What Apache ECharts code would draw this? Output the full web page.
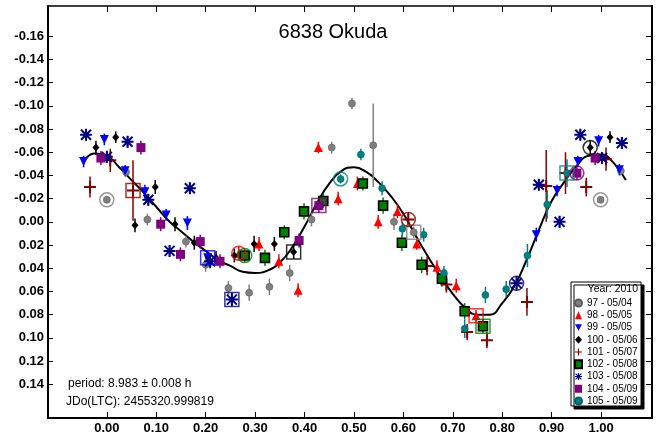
<!DOCTYPE html>
<html><head><meta charset="utf-8">
<script src="https://cdn.jsdelivr.net/npm/echarts@6/dist/echarts.min.js"></script>
<style>html,body{margin:0;padding:0;background:#fff}#c{width:658px;height:441px}</style>
</head><body><div id="c"></div>
<script>
const xTicks = [0, 0.1, 0.2, 0.3, 0.4, 0.5, 0.6, 0.7, 0.8, 0.9, 1.0];
const yTicks = [-0.16, -0.14, -0.12, -0.10, -0.08, -0.06, -0.04, -0.02, 0, 0.02, 0.04, 0.06, 0.08, 0.10, 0.12, 0.14];
const legendNames = ['97 - 05/04','98 - 05/05','99 - 05/05','100 - 05/06','101 - 05/07','102 - 05/08','103 - 05/08','104 - 05/09','105 - 05/09'];
// rows: [phase, mag, err, mark] mark: 0 none, 1 circled, 2 boxed
const s97 = [[0.000,-0.019,0.003,1],[0.039,-0.043,0.004,0],[0.082,-0.002,0.005,0],[0.160,0.017,0.005,0],[0.200,0.037,0.006,0],[0.246,0.057,0.006,0],[0.288,0.061,0.007,0],[0.329,0.056,0.007,0],[0.370,0.044,0.007,0],[0.414,-0.002,0.006,0],[0.455,-0.064,0.005,0],[0.496,-0.102,0.005,0],[0.539,-0.066,0.036,0],[0.581,0.000,0.007,0],[0.621,0.009,0.005,2],[0.999,-0.019,0.003,1],[1.040,-0.044,0.004,0]];
const s98 = [[0.267,0.027,0.006,1],[0.308,0.019,0.006,0],[0.348,0.034,0.006,0],[0.387,0.059,0.006,0],[0.428,-0.064,0.005,0],[0.468,-0.020,0.006,0],[0.507,-0.033,0.006,0],[0.549,0.000,0.006,0],[0.588,-0.009,0.006,0],[0.627,0.019,0.005,0],[0.668,0.039,0.006,0],[0.707,0.055,0.006,0],[0.747,0.081,0.005,2]];
const s99 = [[-0.047,-0.052,0.005,0],[-0.005,-0.071,0.005,0],[0.037,-0.044,0.005,0],[0.077,-0.026,0.006,0],[0.120,-0.006,0.005,0],[0.163,0.001,0.006,0],[0.204,0.031,0.006,2],[0.869,0.011,0.006,0],[0.911,-0.027,0.005,0],[0.953,-0.052,0.005,0],[0.995,-0.070,0.005,0],[1.037,-0.045,0.005,0]];
const s100 = [[-0.022,-0.064,0.006,0],[0.018,-0.073,0.005,0],[0.057,0.003,0.006,0],[0.098,-0.030,0.006,0],[0.138,0.002,0.006,0],[0.177,0.018,0.006,0],[0.221,0.031,0.006,0],[0.258,0.029,0.006,0],[0.298,0.019,0.007,0],[0.339,0.019,0.006,0],[0.378,0.026,0.006,2],[0.978,-0.064,0.006,1],[1.018,-0.073,0.005,0]];
const s101 = [[-0.034,-0.030,0.009,0],[0.007,-0.053,0.010,0],[0.053,-0.027,0.026,2],[0.610,-0.002,0.006,1],[0.648,0.038,0.008,0],[0.687,0.054,0.007,0],[0.729,0.095,0.007,0],[0.769,0.102,0.007,0],[0.850,0.069,0.012,0],[0.889,-0.031,0.031,0],[0.928,-0.042,0.018,0],[0.970,-0.030,0.008,0],[1.010,-0.054,0.010,0]];
const s102 = [[0.279,0.029,0.006,1],[0.320,0.031,0.007,0],[0.359,0.009,0.006,0],[0.399,-0.009,0.007,0],[0.438,-0.018,0.006,0],[0.518,-0.033,0.006,0],[0.559,-0.014,0.007,0],[0.597,0.018,0.007,0],[0.637,0.037,0.007,0],[0.678,0.049,0.007,0],[0.724,0.077,0.007,0],[0.761,0.090,0.006,2]];
const s103 = [[-0.042,-0.075,0.005,0],[0.000,-0.056,0.005,0],[0.042,-0.069,0.005,0],[0.084,-0.019,0.005,0],[0.127,0.025,0.005,0],[0.168,-0.029,0.005,0],[0.209,0.034,0.006,0],[0.253,0.067,0.006,2],[0.829,0.053,0.006,1],[0.874,-0.032,0.005,0],[0.916,0.000,0.005,0],[0.958,-0.075,0.005,0],[1.002,-0.055,0.005,0],[1.042,-0.068,0.005,0]];
const s104 = [[-0.012,-0.055,0.006,0],[0.069,-0.064,0.006,0],[0.109,0.002,0.006,0],[0.149,0.028,0.006,0],[0.189,0.017,0.006,0],[0.229,0.034,0.006,0],[0.389,0.016,0.006,0],[0.429,-0.014,0.006,2],[0.951,-0.042,0.006,1],[0.988,-0.055,0.006,0]];
const s105 = [[0.473,-0.037,0.004,1],[0.514,-0.058,0.005,0],[0.557,-0.029,0.006,0],[0.598,0.006,0.006,0],[0.641,0.011,0.006,0],[0.682,0.044,0.006,0],[0.724,0.092,0.008,0],[0.766,0.063,0.007,0],[0.808,0.058,0.007,0],[0.851,0.029,0.010,0],[0.891,-0.015,0.012,0],[0.931,-0.042,0.012,2]];
const curvePhase = [-0.047,-0.025,0.000,0.025,0.050,0.075,0.100,0.125,0.150,0.175,0.200,0.225,0.250,0.275,0.300,0.325,0.350,0.375,0.400,0.425,0.450,0.475,0.500,0.525,0.550,0.575,0.600,0.625,0.650,0.675,0.700,0.725,0.750,0.775,0.800,0.825,0.850,0.875,0.900,0.925,0.950,0.975,1.000,1.025,1.050];
const curveMag = [-0.052,-0.059,-0.057,-0.047,-0.036,-0.025,-0.013,-0.001,0.008,0.017,0.025,0.033,0.038,0.043,0.044,0.042,0.035,0.022,0.004,-0.016,-0.033,-0.044,-0.047,-0.043,-0.034,-0.022,-0.007,0.012,0.030,0.047,0.062,0.074,0.080,0.080,0.070,0.055,0.032,0.006,-0.018,-0.034,-0.048,-0.057,-0.058,-0.051,-0.036];

const F = '"Liberation Sans", Arial, sans-serif';
const PLUS = 'path://M5,0H7V5H12V7H7V12H5V7H0V5H5Z';
const STAR = 'path://M5,0H7V12H5Z M0,5H12V7H0Z M1.7,0.3L11.7,10.3L10.3,11.7L0.3,1.7Z M10.3,0.3L11.7,1.7L1.7,11.7L0.3,10.3Z';
const DOWN = 'path://M0,0H10L5,9Z';
const defs = [
  {d:s97, c:'#808080', sym:'circle', size:7, bc:'#5a5a5a', bw:0.6, li:'circle'},
  {d:s98, c:'#ff0000', sym:'triangle', size:9, bc:'#ff0000', bw:0, li:'triangle'},
  {d:s99, c:'#0000ff', sym:DOWN, size:9, bc:'#0000ff', bw:0, li:DOWN},
  {d:s100, c:'#000000', sym:'diamond', size:[7,8], bc:'#000', bw:0, li:'diamond'},
  {d:s101, c:'#8b0000', sym:PLUS, size:12, bc:'#8b0000', bw:0, li:PLUS},
  {d:s102, c:'#008000', sym:'rect', size:9, bc:'#000000', bw:1.6, li:'rect'},
  {d:s103, c:'#000080', sym:STAR, size:12, bc:'#000080', bw:0, li:STAR},
  {d:s104, c:'#800080', sym:'rect', size:9, bc:'#800080', bw:0, li:'rect'},
  {d:s105, c:'#008080', sym:'circle', size:7, bc:'#006060', bw:0.5, li:'circle'}
];

const series = [];
series.push({type:'line', name:'fit', data:curvePhase.map((p,i)=>[p,curveMag[i]]), smooth:true, showSymbol:false, symbol:'none', lineStyle:{color:'#000', width:2}, z:2, silent:true, clip:true});
defs.forEach((s, k) => {
  series.push({type:'custom', name:'eb'+k, silent:true, z:3, clip:true,
    data:s.d.map(p=>[p[0],p[1],p[2]]), encode:{x:0,y:1},
    renderItem:(params, api)=>{
      const x=api.value(0), y=api.value(1), e=api.value(2);
      const a=api.coord([x,y-e]), b=api.coord([x,y+e]);
      return {type:'line', shape:{x1:a[0],y1:a[1],x2:b[0],y2:b[1]}, style:{stroke:s.c, lineWidth:1.5}};
    }});
  series.push({type:'scatter', name:legendNames[k], data:s.d.map(p=>[p[0],p[1]]), symbol:s.sym, symbolSize:s.size,
    itemStyle:{color:s.c, borderColor:s.bc, borderWidth:s.bw, opacity:1}, z:4, silent:true});
  const circ = s.d.filter(p=>p[3]===1).map(p=>[p[0],p[1]]);
  const box = s.d.filter(p=>p[3]===2).map(p=>[p[0],p[1]]);
  series.push({type:'scatter', name:'c'+k, data:circ, symbol:'circle', symbolSize:14, z:5, silent:true,
    itemStyle:{color:'rgba(0,0,0,0)', borderColor:s.c, borderWidth:1.5}});
  series.push({type:'scatter', name:'b'+k, data:box, symbol:'rect', symbolSize:14, z:5, silent:true,
    itemStyle:{color:'rgba(0,0,0,0)', borderColor:s.c, borderWidth:1.5}});
});

const axLine = {show:true, onZero:false, lineStyle:{color:'#000', width:2}};
const axLine2 = {show:true, onZero:false, lineStyle:{color:'#000', width:1.5}};
const chart = echarts.init(document.getElementById('c'), null, {renderer:'canvas'});
chart.setOption({
  animation:false,
  backgroundColor:'#fff',
  grid:{left:48, right:6, top:6, bottom:23, containLabel:false},
  xAxis:[
    {type:'value', min:-0.119, max:1.103, position:'bottom', axisLine:axLine, splitLine:{show:false},
     axisTick:{show:true, inside:true, length:6, customValues:xTicks, lineStyle:{color:'#000', width:1}},
     axisLabel:{customValues:xTicks, formatter:v=>v.toFixed(2), fontFamily:F, fontSize:13, fontWeight:'bold', color:'#000', margin:4}},
    {type:'value', min:-0.119, max:1.103, position:'top', axisLine:axLine2, splitLine:{show:false},
     axisTick:{show:true, inside:true, length:6, customValues:xTicks, lineStyle:{color:'#000', width:1}},
     axisLabel:{show:false}}
  ],
  yAxis:[
    {type:'value', min:-0.186, max:0.169, inverse:true, position:'left', axisLine:axLine, splitLine:{show:false},
     axisTick:{show:true, inside:true, length:5, customValues:yTicks, lineStyle:{color:'#000', width:1}},
     axisLabel:{customValues:yTicks, formatter:v=>v.toFixed(2), fontFamily:F, fontSize:13, fontWeight:'bold', color:'#000', margin:4}},
    {type:'value', min:-0.186, max:0.169, inverse:true, position:'right', axisLine:axLine, splitLine:{show:false},
     axisTick:{show:true, inside:true, length:6, customValues:yTicks, lineStyle:{color:'#000', width:1}},
     axisLabel:{show:false}}
  ],
  legend:{orient:'vertical', left:574, top:297, itemWidth:7, itemHeight:8, itemGap:0.25, padding:0, selectedMode:false,
    textStyle:{fontSize:10, lineHeight:12, fontFamily:F, color:'#000'},
    data:legendNames.map((n,k)=>({name:n, icon:defs[k].li})), z:10},
  graphic:[
    {type:'text', style:{text:'6838 Okuda', x:333, y:32, textAlign:'center', textVerticalAlign:'middle', font:'20px '+F, fill:'#000'}},
    {type:'rect', shape:{x:571, y:282, width:70, height:124}, style:{fill:'#fff', stroke:'#000', lineWidth:1, shadowColor:'#000', shadowOffsetX:3, shadowOffsetY:3, shadowBlur:0}, z:8},
    {type:'text', style:{text:'Year: 2010', x:638, y:289, textAlign:'right', textVerticalAlign:'middle', font:'10.5px '+F, fill:'#000'}, z:9},
    {type:'text', style:{text:'period: 8.983 \u00b1 0.008 h', x:68, y:384, textAlign:'left', textVerticalAlign:'middle', font:'12px '+F, fill:'#000'}, z:9},
    {type:'text', style:{text:'JDo(LTC): 2455320.999819', x:66, y:402, textAlign:'left', textVerticalAlign:'middle', font:'12px '+F, fill:'#000'}, z:9}
  ],
  series:series
});
</script></body></html>
